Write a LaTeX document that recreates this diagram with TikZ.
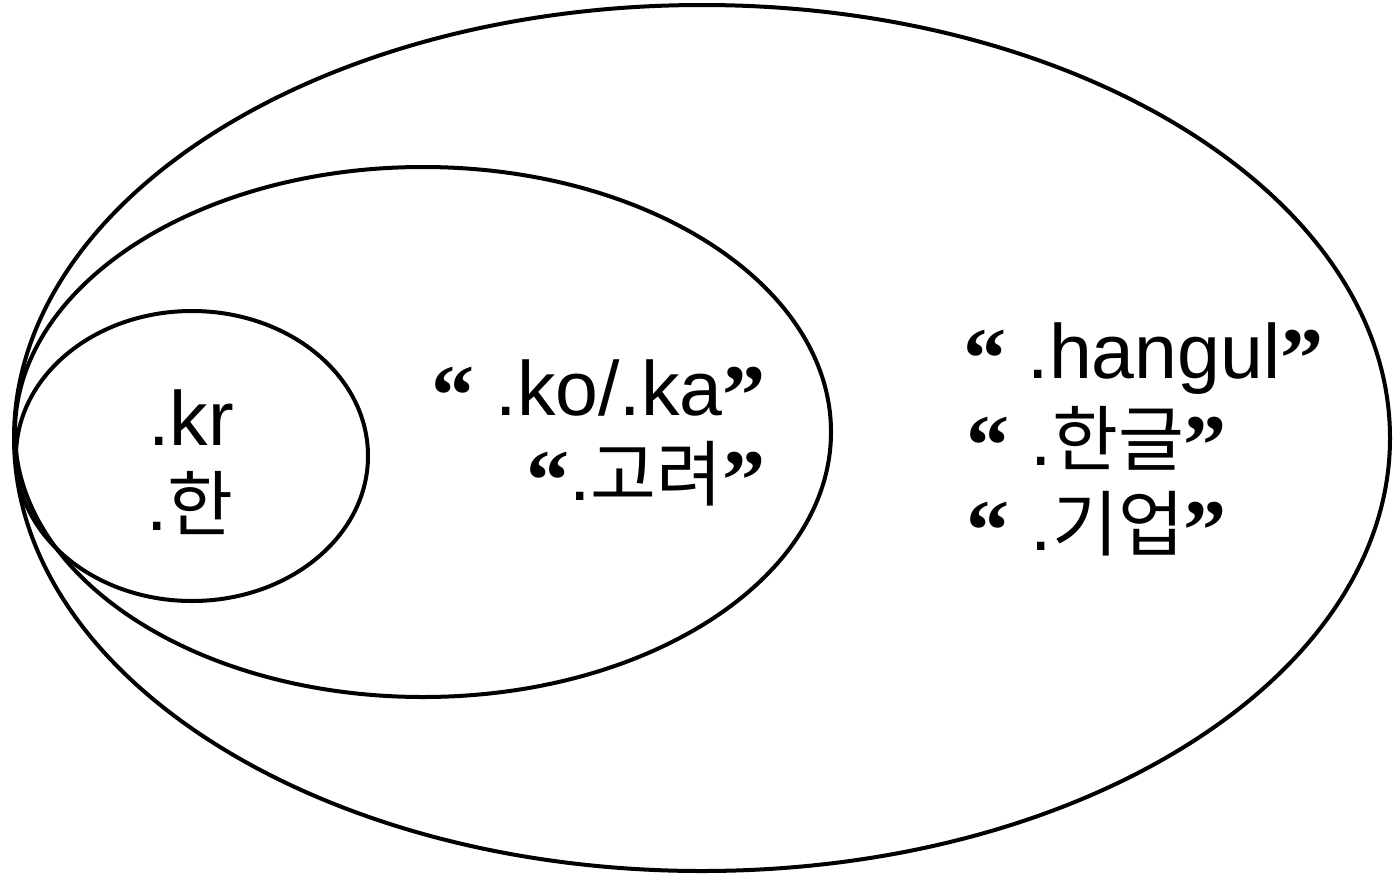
\documentclass[tikz,border=0pt]{standalone}
\usepackage{fontspec}
\setmainfont{Liberation Sans}
\newfontfamily\krf{Noto Sans CJK KR}[Scale=0.93]
\newfontfamily\qtf{Liberation Serif}[BoldFont={* Bold},Scale=1.12]
\newcommand{\myopq}{\raisebox{-0.12em}{\qtf\bfseries “}}
\newcommand{\myclq}{\raisebox{-0.12em}{\qtf\bfseries ”}}
\begin{document}
\begin{tikzpicture}[x=1pt,y=-1pt,
  ring/.style={line width=4pt},
  lbl/.style={inner sep=0pt,font=\fontsize{77}{84}\selectfont}]
\useasboundingbox (0,0) rectangle (1399,876);
\draw[ring] (702,438) ellipse [x radius=688, y radius=433];
\draw[ring] (423,432) ellipse [x radius=408, y radius=265];
\draw[ring] (192,456) ellipse [x radius=176, y radius=145];
% inner
\node[lbl,anchor=base] (kr) at (191,445) {.kr};
\node[lbl,anchor=base] (han) at (190,530) {.{\krf 한}};
% middle
\node[lbl,anchor=base east] (koka) at (766,415) {\myopq\ .ko/.ka\myclq};
\node[lbl,anchor=base east] (goryeo) at (766,500) {\myopq.{\krf 고려}\myclq};
% outer
\node[lbl,anchor=base west] (hangul) at (963,378) {\myopq\ .hangul\myclq};
\node[lbl,anchor=base west] (hangeul) at (966,465) {\myopq\ .{\krf 한글}\myclq};
\node[lbl,anchor=base west] (gieop) at (966,550) {\myopq\ .{\krf 기업}\myclq};
\end{tikzpicture}
\end{document}
